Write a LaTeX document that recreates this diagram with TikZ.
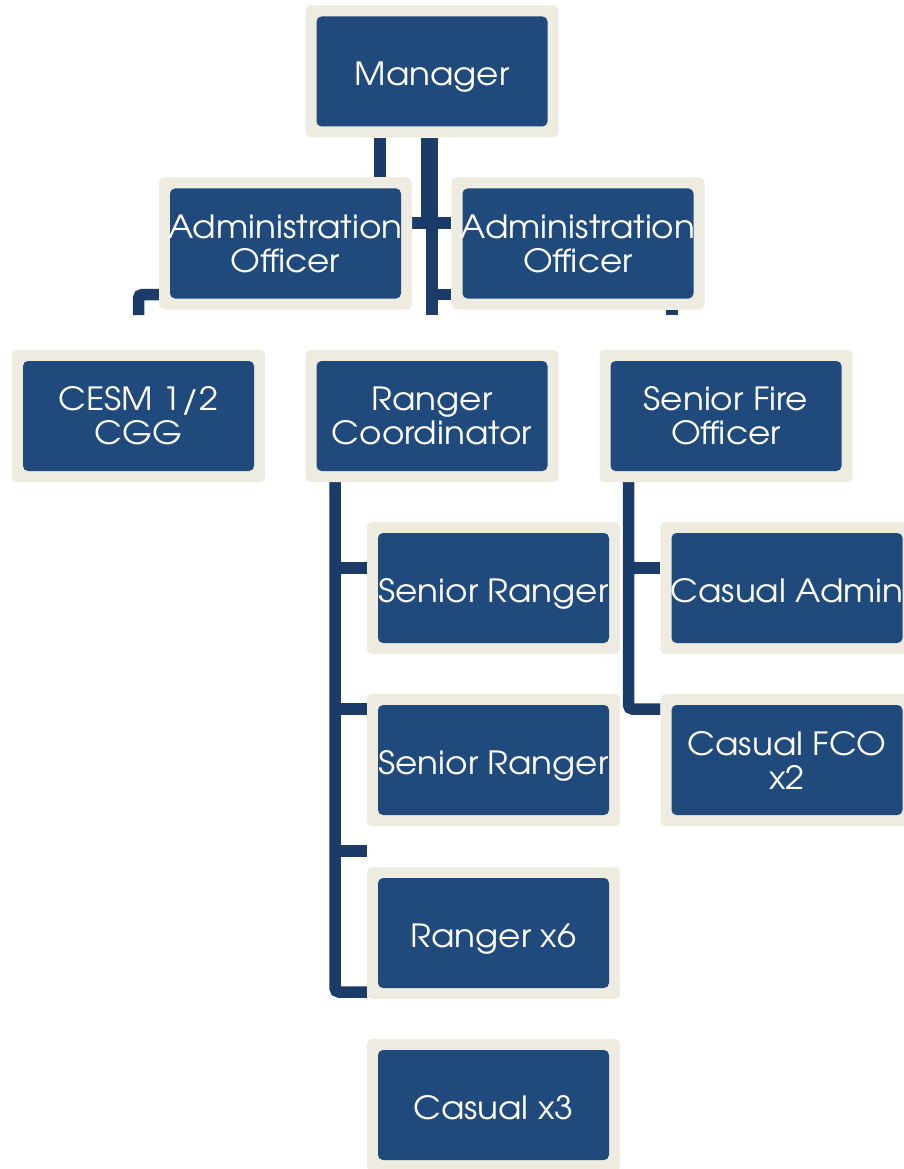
\documentclass[tikz,border=0pt]{standalone}
\usepackage{fontspec}
\setmainfont{TeX Gyre Adventor}[FakeStretch=1.07]
\usetikzlibrary{calc}
\definecolor{boxblue}{HTML}{214A7C}
\definecolor{frame}{HTML}{EEECE1}
\definecolor{conn}{HTML}{1B3B68}
\pgfdeclarelayer{background}
\pgfsetlayers{background,main}
\tikzset{
  orgbox/.style={fill=frame, rounded corners=5pt, inner sep=0pt,
    minimum width=253pt, minimum height=132pt, text=white, align=center,
    font=\fontsize{32}{34}\selectfont,
    path picture={\fill[boxblue] ([xshift=11pt,yshift=-11pt]path picture bounding box.north west)
      rectangle ([xshift=-11pt,yshift=11pt]path picture bounding box.south east);}},
  oneln/.style={text depth=0pt, text height=28pt},
  conn/.style={draw=conn, line width=11.5pt}
}
\begin{document}
\begin{tikzpicture}[x=1pt,y=-1pt]
\useasboundingbox (0,0) rectangle (904,1169);
\clip (0,0) rectangle (904,1169);
\node[orgbox,oneln] (mgr)  at (432,71.5) {Manager};
\node[orgbox] (adL)  at (285.5,243.5) {Administration\\Officer};
\node[orgbox] (adR)  at (578,243.5) {Administration\\Officer};
\node[orgbox] (cesm) at (138.5,416) {CESM 1/2\\CGG};
\node[orgbox] (rc)   at (432,416) {Ranger\\Coordinator};
\node[orgbox] (sfo)  at (726,416) {Senior Fire\\Officer};
\node[orgbox,oneln] (sr1)  at (493.5,588) {Senior Ranger};
\node[orgbox,oneln] (sr2)  at (493.5,760) {Senior Ranger};
\node[orgbox,oneln] (r6)   at (493.5,933) {Ranger x6};
\node[orgbox,oneln] (c3)   at (493.5,1105) {Casual x3};
\node[orgbox,oneln] (ca)   at (787,588) {Casual Admin};
\node[orgbox] (cfco) at (787,760) {Casual FCO\\x2};
\coordinate (cutL) at (138.5,315);
\coordinate (cutM) at (432,315);
\coordinate (cutR) at (672,315);
\begin{pgfonlayer}{background}
  % manager to left admin
  \draw[conn] ([xshift=-52pt]mgr.south) -- ([xshift=-52pt]mgr.south |- adL.north);
  % main trunk
  \draw[conn] (mgr.south) -- (cutM);
  \draw[conn] ([xshift=-5pt]mgr.south) -- ([xshift=-5pt]mgr.south |- 0,223);
  \draw[conn] (adL.east |- 0,223) -- (adR.west |- 0,223);
  \draw[conn] ([xshift=-6pt]cutM |- 0,294.5) -- (adR.west |- 0,294.5);
  % left cut elbow
  \draw[conn, rounded corners=4pt] (adL.west |- 0,294.5) -| (cutL);
  % right cut stub
  \draw[conn] (adR.south -| cutR) -- (cutR);
  % ranger coordinator trunk
  \draw[conn, rounded corners=4pt] (rc.south -| 335,0) -- (335,992) -- (sr1.west |- 0,992);
  \draw[conn] (335,568) -- (sr1.west |- 0,568);
  \draw[conn] (335,709) -- (sr2.west |- 0,709);
  \draw[conn] (335,851) -- (r6.west |- 0,851);
  % senior fire officer trunk
  \draw[conn, rounded corners=4pt] (sfo.south -| 628.5,0) -- (628.5,709) -- (cfco.west |- 0,709);
  \draw[conn] (628.5,568) -- (ca.west |- 0,568);
\end{pgfonlayer}
\end{tikzpicture}
\end{document}
